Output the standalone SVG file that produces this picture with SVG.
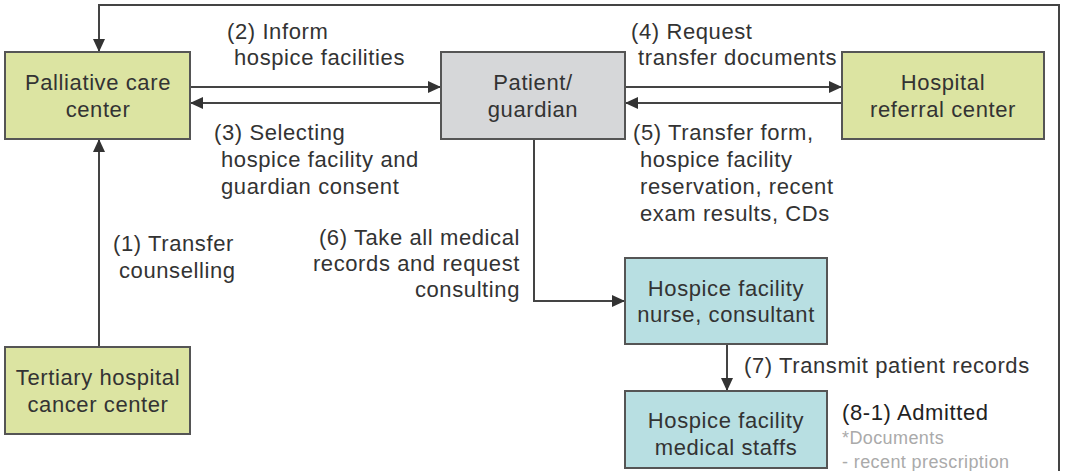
<svg xmlns="http://www.w3.org/2000/svg" width="1071" height="471" viewBox="0 0 1071 471">
<style>
  .bx { stroke: #555; stroke-width: 2; }
  .g { fill: #dce4a2; }
  .p { fill: #d6d7d9; }
  .t { fill: #b8dfe2; }
  text { font-family: "Liberation Sans", Arial, sans-serif; font-size: 22px; fill: #333; letter-spacing: 0.6px; }
  .c { text-anchor: middle; }
  .r { text-anchor: end; }
  .note { font-size: 18px; fill: #aaa; letter-spacing: 0.4px; }
  .ln { fill: none; stroke: #444; stroke-width: 2; }
</style>
<defs>
  <marker id="ah" viewBox="0 0 13 12" refX="13" refY="6" markerWidth="13" markerHeight="12" orient="auto" markerUnits="userSpaceOnUse">
    <path d="M0,0 L13,6 L0,12 z" fill="#333"/>
  </marker>
</defs>
<rect width="1071" height="471" fill="#fff"/>

<g id="connectors">
  <polyline class="ln" points="1059,471 1059,5 99,5 99,52" marker-end="url(#ah)"/>
  <line class="ln" x1="190" y1="87" x2="441" y2="87" marker-end="url(#ah)"/>
  <line class="ln" x1="441" y1="103" x2="190" y2="103" marker-end="url(#ah)"/>
  <line class="ln" x1="625" y1="87" x2="842" y2="87" marker-end="url(#ah)"/>
  <line class="ln" x1="842" y1="103" x2="625" y2="103" marker-end="url(#ah)"/>
  <line class="ln" x1="99" y1="347" x2="99" y2="139" marker-end="url(#ah)"/>
  <polyline class="ln" points="534,139 534,301 625,301" marker-end="url(#ah)"/>
  <line class="ln" x1="727" y1="344" x2="727" y2="391" marker-end="url(#ah)"/>
  <text x="227" y="39">(2) Inform</text>
  <text x="234" y="65">hospice facilities</text>
  <text x="214" y="140">(3) Selecting</text>
  <text x="221" y="167">hospice facility and</text>
  <text x="221" y="194">guardian consent</text>
  <text x="631" y="39">(4) Request</text>
  <text x="638" y="65">transfer documents</text>
  <text x="633" y="140">(5) Transfer form,</text>
  <text x="640" y="167">hospice facility</text>
  <text x="640" y="194">reservation, recent</text>
  <text x="640" y="221">exam results, CDs</text>
  <text x="113" y="251">(1) Transfer</text>
  <text x="119" y="278">counselling</text>
  <text class="r" x="520" y="245">(6) Take all medical</text>
  <text class="r" x="520" y="271">records and request</text>
  <text class="r" x="520" y="297">consulting</text>
  <text x="744" y="373">(7) Transmit patient records</text>
  <text x="842" y="420" style="fill:#222">(8-1) Admitted</text>
  <text class="note" x="842" y="444">*Documents</text>
  <text class="note" x="842" y="468">- recent prescription</text>
</g>

<g id="palliative">
  <rect class="bx g" x="5" y="52" width="185" height="87"/>
  <text class="c" x="98" y="90">Palliative care</text>
  <text class="c" x="98" y="117">center</text>
</g>
<g id="patient">
  <rect class="bx p" x="441" y="52" width="184" height="87"/>
  <text class="c" x="533" y="90">Patient/</text>
  <text class="c" x="533" y="117">guardian</text>
</g>
<g id="hospital">
  <rect class="bx g" x="842" y="52" width="202" height="87"/>
  <text class="c" x="943" y="90">Hospital</text>
  <text class="c" x="943" y="117">referral center</text>
</g>
<g id="tertiary">
  <rect class="bx g" x="5" y="347" width="185" height="87"/>
  <text class="c" x="98" y="385">Tertiary hospital</text>
  <text class="c" x="98" y="412">cancer center</text>
</g>
<g id="nurse">
  <rect class="bx t" x="625" y="258" width="202" height="86"/>
  <text class="c" x="726" y="296">Hospice facility</text>
  <text class="c" x="726" y="322">nurse, consultant</text>
</g>
<g id="staffs">
  <rect class="bx t" x="625" y="391" width="202" height="77"/>
  <text class="c" x="726" y="428">Hospice facility</text>
  <text class="c" x="726" y="455">medical staffs</text>
</g>
</svg>
